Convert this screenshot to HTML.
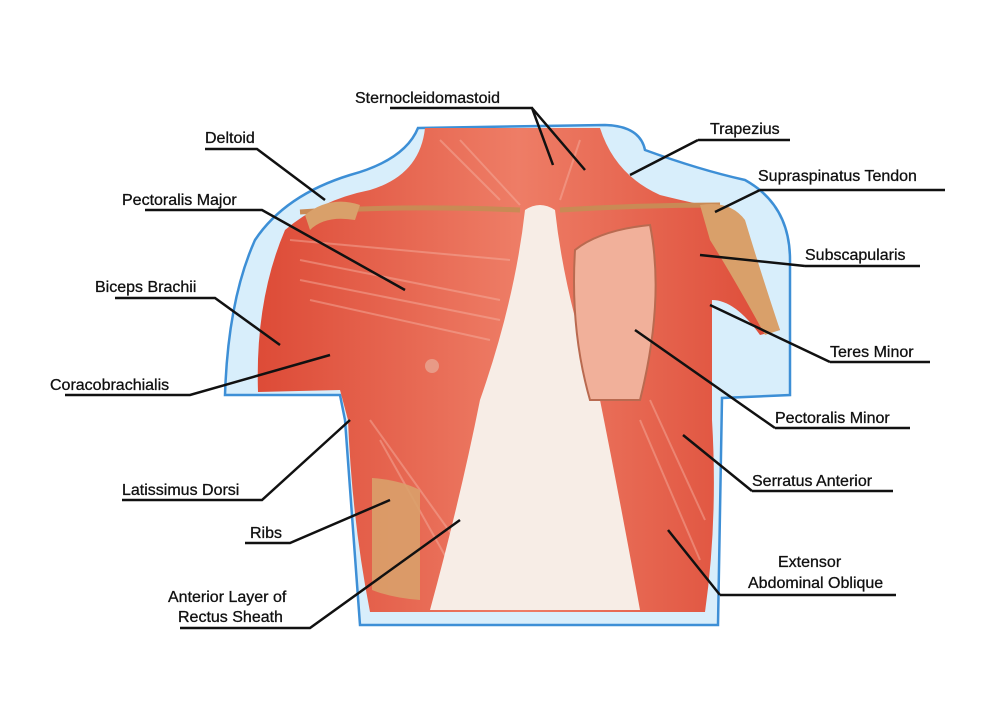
<!DOCTYPE html>
<html><head><meta charset="utf-8"><style>
html,body{margin:0;padding:0;background:#fff}
svg{display:block}
text{font-family:"Liberation Sans",sans-serif;font-size:16px;fill:#111;stroke:#111;stroke-width:0.3}
</style></head><body>
<svg width="1000" height="715" viewBox="0 0 1000 715">
<defs>
<linearGradient id="g" x1="0" x2="1"><stop offset="0" stop-color="#dd4b37"/><stop offset=".5" stop-color="#ee7d66"/><stop offset="1" stop-color="#dd4b37"/></linearGradient>
</defs>
<path d="M418,128 L605,125 Q640,126 645,150 Q700,170 745,180 Q790,205 790,260 L790,395 L722,398 L718,625 L360,625 L345,420 L340,395 L225,395 Q228,300 255,240 Q285,195 350,175 Q405,160 418,128 Z" fill="#d8eefb" stroke="#3d8fd6" stroke-width="2.5"/>
<path d="M425,128 L600,128 Q615,175 660,195 Q700,205 730,210 Q745,240 780,330 L760,335 Q735,300 712,300 L712,420 Q718,520 705,612 L370,612 Q352,520 348,420 L340,390 L258,392 Q255,300 285,230 Q320,200 370,190 Q420,175 425,128 Z" fill="url(#g)"/>
<g stroke="#f6b4a4" stroke-width="2" opacity=".45" fill="none">
<path d="M300,260 L500,300 M300,280 L500,320 M310,300 L490,340 M290,240 L510,260 M370,420 L470,560 M380,440 L470,600 M640,420 L700,560 M650,400 L705,520 M440,140 L500,200 M460,140 L520,205 M580,140 L560,200"/>
</g>
<path d="M525,210 Q540,200 555,210 Q565,300 600,400 Q620,500 640,610 L430,610 Q460,500 480,400 Q515,300 525,210 Z" fill="#f7ede6"/>
<path d="M300,212 Q400,205 520,210" stroke="#c98a55" stroke-width="5" fill="none"/>
<path d="M560,210 Q640,205 720,205" stroke="#c98a55" stroke-width="5" fill="none"/>
<path d="M575,250 Q600,230 650,225 Q665,300 640,400 L590,400 Q570,330 575,250Z" fill="#f1b09a" stroke="#b96a50" stroke-width="2"/>
<path d="M700,205 Q730,200 745,220 Q760,270 780,330 L765,335 Q735,280 710,240Z" fill="#d9a06a"/>
<path d="M372,478 Q400,480 420,490 L420,600 Q392,598 372,590Z" fill="#d9a06a" opacity=".9"/>
<circle cx="432" cy="366" r="7" fill="#e89a86"/>
<path d="M305,215 Q330,195 360,205 L355,220 Q325,215 310,230Z" fill="#d9a06a"/>
<g stroke="#111" stroke-width="2.5" fill="none">
<path d="M390,108 H532 L553,165 M532,108 L585,170"/>
<path d="M205,149 H257 L325,200"/>
<path d="M145,210 H262 L405,290"/>
<path d="M115,298 H215 L280,345"/>
<path d="M65,395 H190 L330,355"/>
<path d="M122,500 H262 L350,420"/>
<path d="M245,543 H290 L390,500"/>
<path d="M180,628 H310 L460,520"/>
<path d="M698,140 H790 M698,140 L630,175"/>
<path d="M760,190 H945 M760,190 L715,212"/>
<path d="M805,266 H920 M805,266 L700,255"/>
<path d="M830,362 H930 M830,362 L710,305"/>
<path d="M775,428 H910 M775,428 L635,330"/>
<path d="M752,491 H893 M752,491 L683,435"/>
<path d="M720,595 H896 M720,595 L668,530"/>
</g>
<text x="355" y="103">Sternocleidomastoid</text>
<text x="205" y="143">Deltoid</text>
<text x="122" y="205">Pectoralis Major</text>
<text x="95" y="292">Biceps Brachii</text>
<text x="50" y="390">Coracobrachialis</text>
<text x="122" y="495">Latissimus Dorsi</text>
<text x="250" y="538">Ribs</text>
<text x="168" y="602">Anterior Layer of</text>
<text x="178" y="622">Rectus Sheath</text>
<text x="710" y="134">Trapezius</text>
<text x="758" y="181">Supraspinatus Tendon</text>
<text x="805" y="260">Subscapularis</text>
<text x="830" y="357">Teres Minor</text>
<text x="775" y="423">Pectoralis Minor</text>
<text x="752" y="486">Serratus Anterior</text>
<text x="778" y="567">Extensor</text>
<text x="748" y="588">Abdominal Oblique</text>
</svg>
</body></html>
